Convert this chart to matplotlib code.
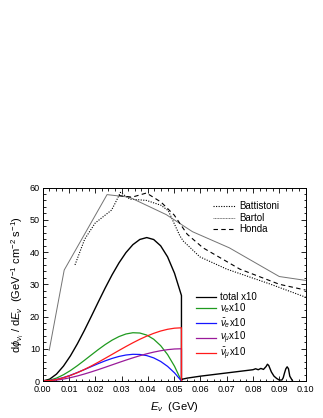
import matplotlib
matplotlib.use('Agg')
import matplotlib.pyplot as plt
from matplotlib.ticker import MultipleLocator, FormatStrFormatter

plt.rcParams['font.family'] = ['Liberation Sans', 'DejaVu Sans']
plt.rcParams['mathtext.fontset'] = 'custom'
plt.rcParams['mathtext.rm'] = 'Liberation Sans'
plt.rcParams['mathtext.it'] = 'Liberation Sans:italic'
plt.rcParams['mathtext.bf'] = 'Liberation Sans:bold'

# decay-at-rest components (x10), energy grid in GeV
e_dar = [0.0, 0.00264, 0.00528, 0.00792, 0.01056, 0.0132, 0.01584, 0.01848,
         0.02112, 0.02376, 0.0264, 0.02904, 0.03168, 0.03432, 0.03696, 0.0396,
         0.04224, 0.04488, 0.04752, 0.05016, 0.0528]
nu_e = [0, 0.24, 0.91, 1.94, 3.24, 4.75, 6.38, 8.06, 9.72, 11.28, 12.66, 13.78,
        14.58, 14.97, 14.88, 14.24, 12.96, 10.97, 8.20, 4.57, 0]
nubar_e = [0, 0.13, 0.50, 1.07, 1.79, 2.63, 3.53, 4.46, 5.38, 6.24, 7.00, 7.62,
           8.06, 8.28, 8.23, 7.88, 7.17, 6.07, 4.54, 2.53, 0]
nu_mu = [0, 0.07, 0.28, 0.61, 1.04, 1.56, 2.16, 2.82, 3.52, 4.25, 5.0, 5.75,
         6.48, 7.18, 7.84, 8.44, 8.96, 9.39, 9.72, 9.93, 10.0]
nubar_mu = [0, 0.12, 0.46, 1.0, 1.72, 2.58, 3.56, 4.65, 5.81, 7.02, 8.25, 9.48,
            10.69, 11.85, 12.94, 13.92, 14.78, 15.50, 16.04, 16.38, 16.5]
total = [0, 0.56, 2.15, 4.62, 7.79, 11.52, 15.63, 19.99, 24.43, 28.79, 32.91,
         36.63, 39.81, 42.28, 43.89, 44.48, 43.87, 41.93, 38.50, 33.41, 26.5]

# tail of the total spectrum above the muon endpoint
e_tail = [0.0528, 0.0528, 0.055, 0.060, 0.065, 0.070, 0.075, 0.078, 0.080, 0.081,
          0.082, 0.083, 0.084, 0.085, 0.0855, 0.086, 0.087, 0.088, 0.089, 0.090,
          0.091, 0.0915, 0.092, 0.0925, 0.093, 0.0935, 0.094, 0.095]
total_tail = [0, 0.5, 0.9, 1.5, 2.0, 2.5, 3.0, 3.3, 3.5, 3.8, 3.5, 3.9, 3.6, 4.5,
              5.2, 4.8, 2.8, 1.5, 0.8, 0.3, 0.3, 1.0, 2.5, 3.8, 4.4, 3.8, 1.5, 0.1]

# atmospheric flux models
e_battistoni = [0.0123, 0.016, 0.020, 0.0262, 0.0275, 0.0296, 0.0332, 0.0395,
                0.045, 0.0478, 0.0522, 0.0535, 0.0598, 0.070, 0.0864, 0.100]
battistoni = [36.0, 44.0, 49.0, 53.0, 55.0, 58.5, 56.4, 56.0, 54.5, 52.8, 45.0,
              43.4, 38.5, 34.7, 30.1, 26.0]
e_bartol = [0.0025, 0.0082, 0.0245, 0.033, 0.047, 0.057, 0.071, 0.090, 0.100]
bartol = [9.5, 34.4, 57.8, 57.0, 51.6, 46.3, 41.3, 32.4, 31.2]
e_honda = [0.029, 0.034, 0.0395, 0.045, 0.050, 0.055, 0.061, 0.075, 0.090, 0.100]
honda = [57.5, 57.0, 58.3, 55.5, 51.5, 45.5, 41.3, 34.7, 30.0, 28.2]

fig = plt.figure(figsize=(3.23, 4.18), dpi=100)
ax = fig.add_axes([0.132, 0.0885, 0.814, 0.4629])

ax.plot(e_battistoni, battistoni, color='black', lw=0.8, ls=(0, (1, 1.3)))
ax.plot(e_bartol, bartol, color='0.45', lw=0.7, ls='-')
ax.plot(e_honda, honda, color='black', lw=0.8, ls=(0, (4, 3)))

ax.plot(e_dar + e_tail, total + total_tail, color='black', lw=1.0)
ax.plot(e_dar, nu_e, color='#1f9a1f', lw=0.9)
ax.plot(e_dar, nubar_e, color='#1515ff', lw=0.9)
ax.plot(e_dar + [0.0528], nu_mu + [0], color='#9a1a9a', lw=0.9)
ax.plot(e_dar + [0.0528], nubar_mu + [0], color='#ff1a1a', lw=0.9)

ax.set_xlim(0, 0.10)
ax.set_ylim(0, 60)
ax.xaxis.set_major_locator(MultipleLocator(0.01))
ax.xaxis.set_minor_locator(MultipleLocator(0.0025))
ax.xaxis.set_major_formatter(FormatStrFormatter('%.2f'))
ax.yaxis.set_major_locator(MultipleLocator(10))
ax.yaxis.set_minor_locator(MultipleLocator(2))
ax.tick_params(which='both', direction='in', top=True, right=True, labelsize=6.5, width=0.6)
ax.tick_params(which='major', length=3.5)
ax.tick_params(axis='x', which='major', pad=3)
ax.tick_params(axis='y', which='major', pad=2)
ax.tick_params(which='minor', length=1.8)
for s in ax.spines.values():
    s.set_linewidth(0.7)

ax.set_xlabel(r'$E_\nu$  (GeV)', fontsize=8, labelpad=4)
ax.set_ylabel(r'd$\phi_{\nu_i}$ / d$E_\nu$  (GeV$^{-1}$ cm$^{-2}$ s$^{-1}$)', fontsize=8, labelpad=3)

# legend for the flux models
flux_labels = ['Battistoni', 'Bartol', 'Honda']
flux_styles = [dict(color='black', lw=0.8, ls=(0, (1, 1.3))),
               dict(color='0.45', lw=0.7, ls=(0, (1, 0.6))),
               dict(color='black', lw=0.8, ls=(0, (4, 3)))]
y0 = 0.906
for i, (lab, st) in enumerate(zip(flux_labels, flux_styles)):
    yy = y0 - 0.061 * i
    ax.plot([0.647, 0.73], [yy, yy], transform=ax.transAxes, **st)
    ax.text(0.746, yy, lab, transform=ax.transAxes, fontsize=7, va='center')

# legend for the components
comp_labels = ['total x10', r'$\nu_e$x10', r'$\bar{\nu}_e$x10', r'$\nu_\mu$x10', r'$\bar{\nu}_\mu$x10']
comp_colors = ['black', '#1f9a1f', '#1515ff', '#9a1a9a', '#ff1a1a']
comp_y = [0.436, 0.376, 0.298, 0.221, 0.143]
for lab, c, yy in zip(comp_labels, comp_colors, comp_y):
    ax.plot([0.582, 0.658], [yy, yy], transform=ax.transAxes, color=c, lw=0.9)
    ax.text(0.674, yy, lab, transform=ax.transAxes, fontsize=7, va='center')

fig.savefig('out.png', dpi=100)
